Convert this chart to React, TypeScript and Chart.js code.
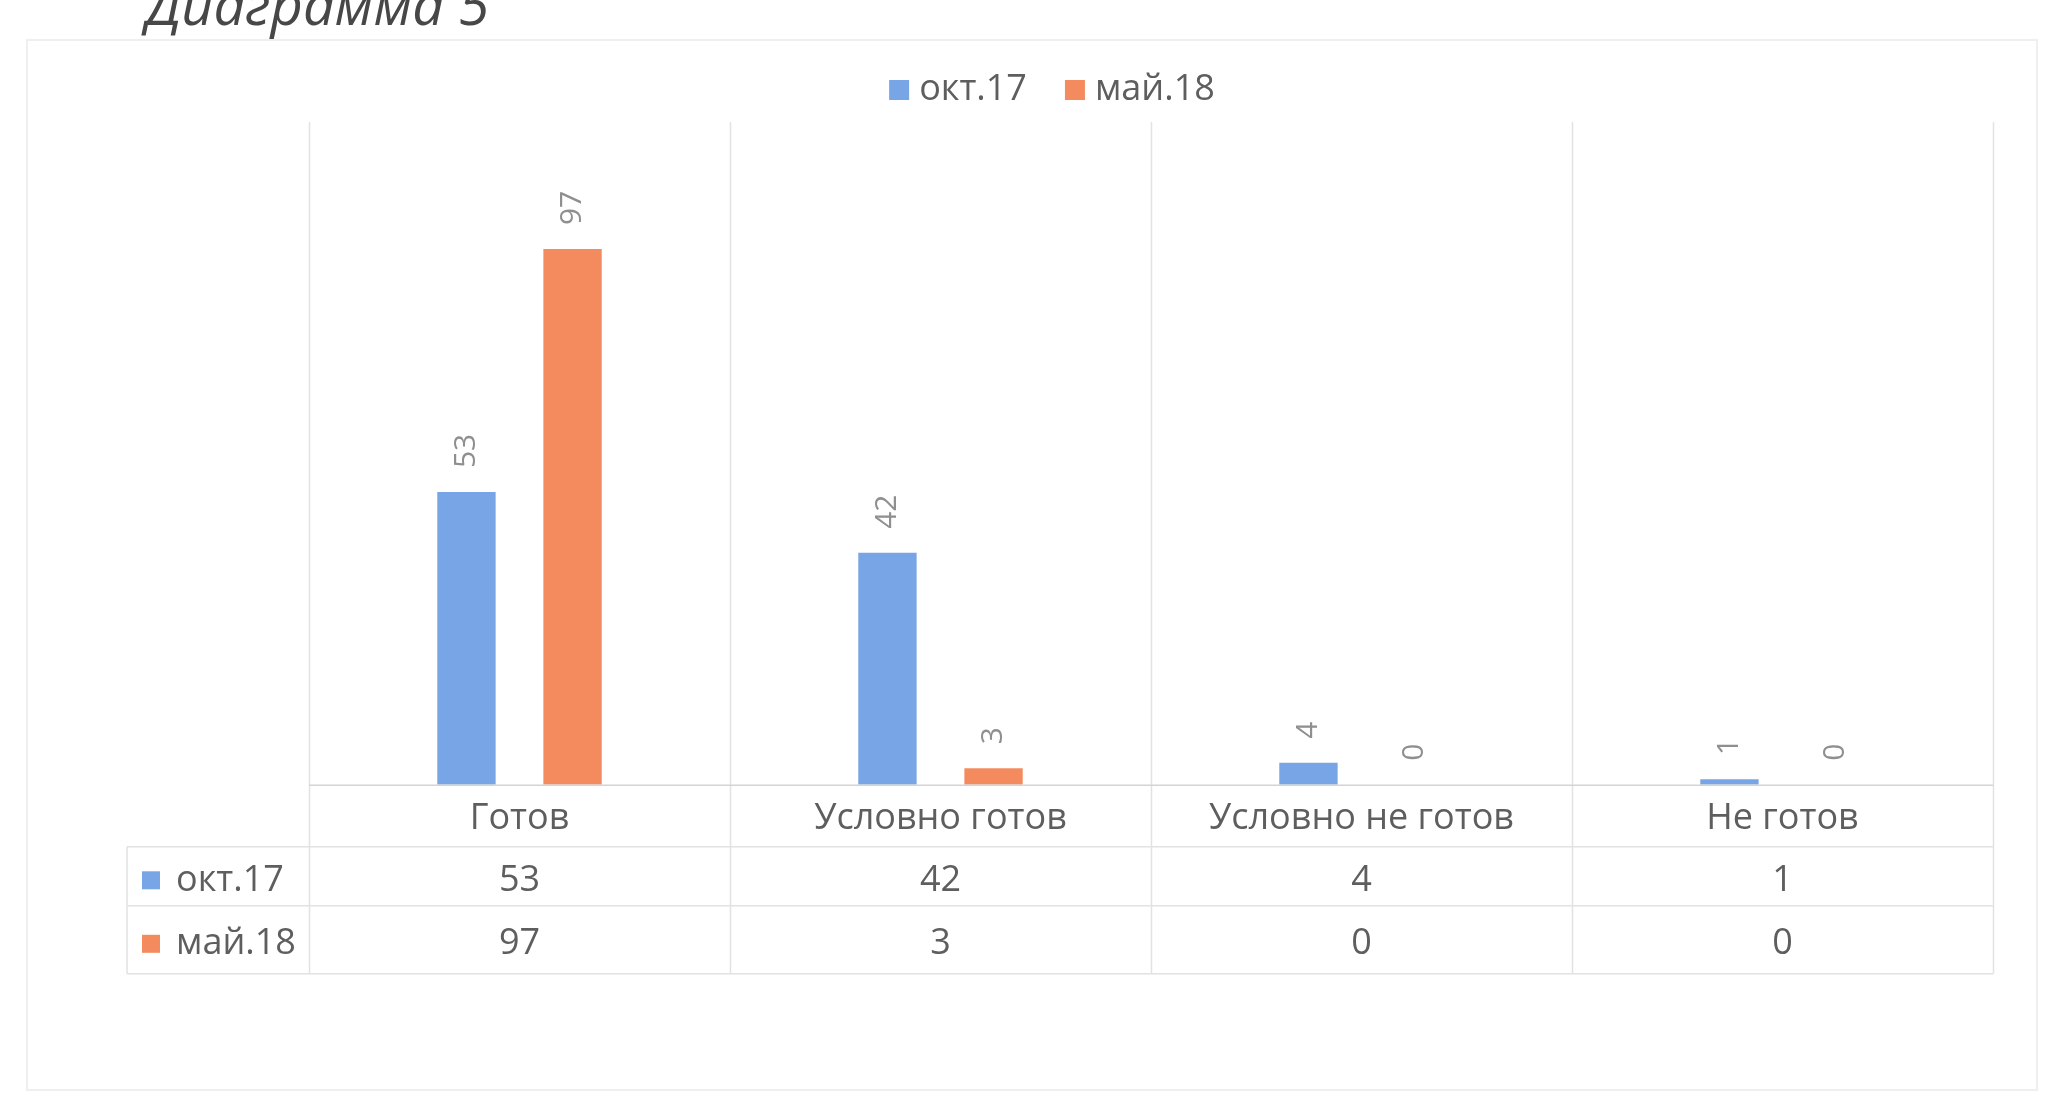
import React, { useEffect, useRef } from "react";
import { Chart, registerables } from "chart.js";

Chart.register(...registerables);

const titleText = "Диаграмма 5";
const categories = ["Готов", "Условно готов", "Условно не готов", "Не готов"];
const seriesNames = ["окт.17", "май.18"];
const oct17Values = [53, 42, 4, 1];
const may18Values = [97, 3, 0, 0];
const seriesColors = ["#78a5e6", "#f48b5e"];
const axisMax = 120;

const FONT = '"Open Sans", "Noto Sans", sans-serif';
const TEXT = "#5e5e5e";
const GRID = "#e2e2e2";

const overlayPlugin = {
  id: "overlay",
  beforeDraw(chart: any) {
    const ctx = chart.ctx;
    ctx.save();
    ctx.fillStyle = "#ffffff";
    ctx.fillRect(0, 0, chart.width, chart.height);
    ctx.strokeStyle = "#efefef";
    ctx.lineWidth = 2;
    ctx.strokeRect(27, 40, 2010, 1050);
    ctx.restore();
  },
  afterDraw(chart: any) {
    const ctx = chart.ctx;
    const area = chart.chartArea;
    const xs = chart.scales.x;
    const n = categories.length;
    const catW = xs.getPixelForValue(1) - xs.getPixelForValue(0);
    const tableLeft = 127;
    const y1 = area.bottom + 62;
    const y2 = area.bottom + 121;
    const y3 = area.bottom + 189;

    ctx.save();
    ctx.strokeStyle = GRID;
    ctx.lineWidth = 1.5;
    for (let i = 0; i <= n; i++) {
      const bx = Math.round(xs.getPixelForValue(0) - catW / 2 + i * catW) + 0.5;
      ctx.beginPath();
      ctx.moveTo(bx, area.top);
      ctx.lineTo(bx, y3);
      ctx.stroke();
    }
    [y1, y2, y3].forEach((yy) => {
      ctx.beginPath();
      ctx.moveTo(tableLeft, yy);
      ctx.lineTo(area.right, yy);
      ctx.stroke();
    });
    ctx.beginPath();
    ctx.moveTo(tableLeft, y1);
    ctx.lineTo(tableLeft, y3);
    ctx.stroke();
    ctx.strokeStyle = "#d4d4d4";
    ctx.beginPath();
    ctx.moveTo(area.left, area.bottom + 0.5);
    ctx.lineTo(area.right, area.bottom + 0.5);
    ctx.stroke();

    // data labels (rotated)
    ctx.font = `30px ${FONT}`;
    ctx.fillStyle = "#8f8f8f";
    chart.data.datasets.forEach((ds: any, di: number) => {
      const meta = chart.getDatasetMeta(di);
      meta.data.forEach((el: any, i: number) => {
        ctx.save();
        ctx.translate(el.x, el.y - 24);
        ctx.rotate(-Math.PI / 2);
        ctx.textAlign = "left";
        ctx.textBaseline = "middle";
        ctx.fillText(String(ds.data[i]), 0, 0);
        ctx.restore();
      });
    });

    // table rows
    const rowCenters = [(y1 + y2) / 2 + 4, (y2 + y3) / 2 + 4];
    ctx.font = `36px ${FONT}`;
    ctx.textBaseline = "middle";
    chart.data.datasets.forEach((ds: any, di: number) => {
      const cy = rowCenters[di];
      ctx.fillStyle = ds.backgroundColor;
      ctx.fillRect(142, cy - 9, 18, 18);
      ctx.fillStyle = TEXT;
      ctx.textAlign = "left";
      ctx.fillText(ds.label, 176, cy);
      ctx.textAlign = "center";
      ds.data.forEach((v: number, i: number) => {
        ctx.fillText(String(v), xs.getPixelForValue(i), cy);
      });
    });

    // legend
    ctx.font = `36px ${FONT}`;
    const box = 20;
    const gap = 10;
    const itemGap = 38;
    const widths = chart.data.datasets.map((ds: any) => ctx.measureText(ds.label).width);
    const total = widths.reduce((a: number, w: number) => a + box + gap + w, 0) + itemGap * (widths.length - 1);
    let lx = 1052 - total / 2;
    const ly = 90;
    chart.data.datasets.forEach((ds: any, di: number) => {
      ctx.fillStyle = ds.backgroundColor;
      ctx.fillRect(lx, ly - box / 2, box, box);
      ctx.fillStyle = TEXT;
      ctx.textAlign = "left";
      ctx.fillText(ds.label, lx + box + gap, ly);
      lx += box + gap + widths[di] + itemGap;
    });

    // title (cut off at the top, as in the scan)
    ctx.font = `italic 56px ${FONT}`;
    ctx.fillStyle = "#474747";
    ctx.textAlign = "left";
    ctx.textBaseline = "alphabetic";
    ctx.fillText(titleText, 146, 25);
    ctx.restore();
  },
};

export default function App() {
  const canvasRef = useRef<HTMLCanvasElement | null>(null);

  useEffect(() => {
    if (!canvasRef.current) return;
    const chart = new Chart(canvasRef.current, {
      type: "bar",
      data: {
        labels: categories,
        datasets: [
          { label: seriesNames[0], data: oct17Values, backgroundColor: seriesColors[0] },
          { label: seriesNames[1], data: may18Values, backgroundColor: seriesColors[1] },
        ],
      },
      options: {
        responsive: false,
        animation: false,
        layout: { padding: { left: 309, right: 63, top: 122, bottom: 248 } },
        datasets: { bar: { barPercentage: 0.55, categoryPercentage: 0.504 } },
        plugins: { legend: { display: false }, tooltip: { enabled: false }, title: { display: false } },
        scales: {
          x: {
            offset: true,
            grid: { display: false, drawTicks: false },
            border: { display: false },
            ticks: { padding: 12, color: TEXT, font: { family: FONT, size: 36 } },
          },
          y: { display: false, min: 0, max: axisMax },
        },
      },
      plugins: [overlayPlugin],
    });
    return () => chart.destroy();
  }, []);

  return (
    <div style={{ position: "absolute", left: 0, top: 0, width: 2056, height: 1100 }}>
      <canvas ref={canvasRef} width={2056} height={1100} />
    </div>
  );
}
